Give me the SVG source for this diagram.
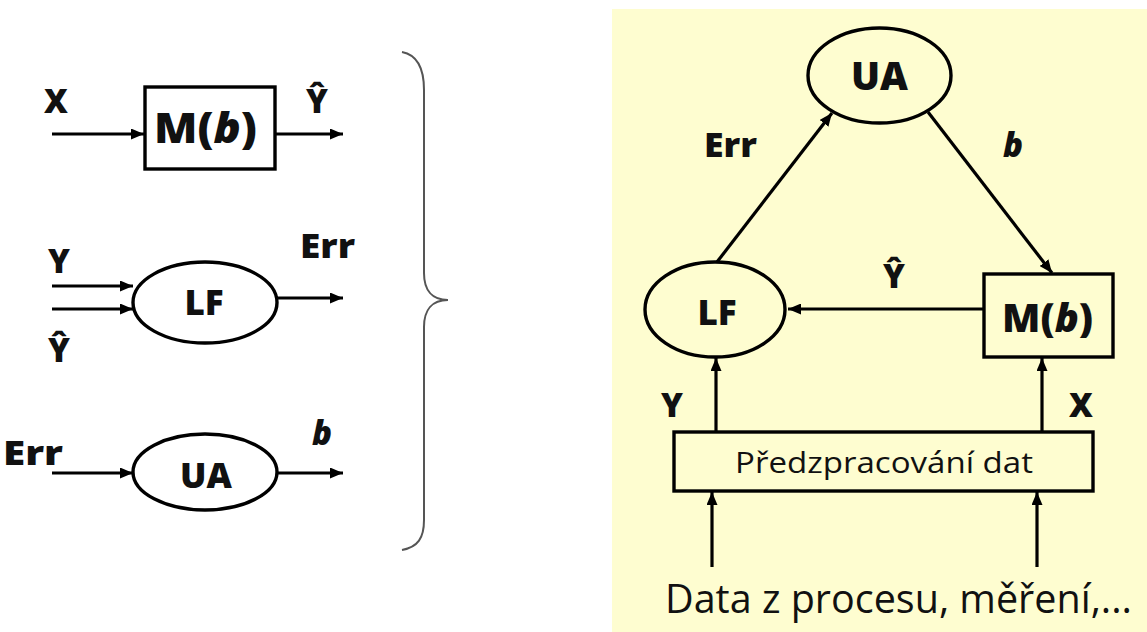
<svg xmlns="http://www.w3.org/2000/svg" width="1147" height="632" viewBox="0 0 1147 632">
<style>
.ln{stroke:#000;stroke-width:3.2;fill:none}
.shape{stroke:#000;stroke-width:3.4;fill:none}
.b{font-family:"Open Sans","Liberation Sans",sans-serif;font-weight:800;fill:#111}
.n{font-family:"Open Sans","Liberation Sans",sans-serif;fill:#111}
.lab{font-size:33px}
.node{font-size:35px}
</style>
<defs>
<marker id="ah" markerUnits="userSpaceOnUse" markerWidth="14" markerHeight="11" refX="13" refY="5.5" orient="auto">
<path d="M0,0 L13,5.5 L0,11 z" fill="#000"/>
</marker>
</defs>
<rect width="1147" height="632" fill="#fff"/>
<rect x="612" y="9" width="535" height="623" fill="#FEFDD0"/>

<!-- left: model -->
<g id="left-M">
<rect class="shape" x="145" y="87" width="130" height="82"/>
<text class="b" x="154" y="143" font-size="42" textLength="103" lengthAdjust="spacingAndGlyphs">M(<tspan font-style="italic">b</tspan>)</text>
</g>
<g id="left-LF">
<ellipse class="shape" cx="205" cy="302.5" rx="72" ry="40.5"/>
<text class="b node" x="204" y="315" text-anchor="middle">LF</text>
</g>
<g id="left-UA">
<ellipse class="shape" cx="205" cy="472" rx="72" ry="38"/>
<text class="b node" x="206" y="488" text-anchor="middle">UA</text>
</g>

<!-- left labels -->
<g id="left-labels">
<text class="b lab" x="56" y="113" text-anchor="middle">X</text>
<text class="b lab" x="317" y="113" text-anchor="middle">Ŷ</text>
<text class="b lab" x="59" y="273" text-anchor="middle">Y</text>
<text class="b lab" x="59" y="362" text-anchor="middle">Ŷ</text>
<text class="b lab" x="300" y="258" textLength="55" lengthAdjust="spacingAndGlyphs">Err</text>
<text class="b lab" x="3" y="465" textLength="60" lengthAdjust="spacingAndGlyphs">Err</text>
<text class="b lab" x="322" y="445" text-anchor="middle" font-style="italic">b</text>
</g>

<!-- brace -->
<g id="brace">
<path d="M402,52 C418,55 424,70 424,90 L424,273 C424,290 432,300 448,300 C432,300 424,310 424,327 L424,520 C424,538 418,547 402,550" fill="none" stroke="#555" stroke-width="2"/>
</g>

<!-- right nodes -->
<g id="right-UA">
<ellipse class="shape" cx="879.5" cy="75.5" rx="71.5" ry="47.5"/>
<text class="b" x="851" y="90" font-size="38" textLength="57" lengthAdjust="spacingAndGlyphs">UA</text>
</g>
<g id="right-LF">
<ellipse class="shape" cx="715" cy="309.5" rx="70" ry="47.5"/>
<text class="b node" x="717" y="325" text-anchor="middle">LF</text>
</g>
<g id="right-M">
<rect class="shape" x="984" y="274" width="129" height="83"/>
<text class="b" x="1002" y="332" font-size="39" textLength="91" lengthAdjust="spacingAndGlyphs">M(<tspan font-style="italic">b</tspan>)</text>
</g>
<g id="right-pre">
<rect class="shape" x="674" y="432" width="419" height="59"/>
<text class="n" x="735" y="473" font-size="29" textLength="298" lengthAdjust="spacingAndGlyphs">Předzpracování dat</text>
</g>

<!-- right labels -->
<g id="right-labels">
<text class="b lab" x="704" y="157" textLength="53" lengthAdjust="spacingAndGlyphs">Err</text>
<text class="b lab" x="1013" y="157" text-anchor="middle" font-style="italic">b</text>
<text class="b lab" x="894" y="288" text-anchor="middle">Ŷ</text>
<text class="b lab" x="672" y="417" text-anchor="middle">Y</text>
<text class="b lab" x="1081" y="417" text-anchor="middle">X</text>
<text class="n" x="665" y="613" font-size="40" textLength="467" lengthAdjust="spacingAndGlyphs">Data z procesu, měření,...</text>
</g>

<!-- connectors -->
<g id="connectors">
<line class="ln" x1="52" y1="134" x2="144" y2="134" marker-end="url(#ah)"/>
<line class="ln" x1="276" y1="134" x2="343" y2="134" marker-end="url(#ah)"/>
<line class="ln" x1="52" y1="286" x2="133" y2="286" marker-end="url(#ah)"/>
<line class="ln" x1="52" y1="309" x2="133" y2="309" marker-end="url(#ah)"/>
<line class="ln" x1="277" y1="298" x2="343" y2="298" marker-end="url(#ah)"/>
<line class="ln" x1="52" y1="473" x2="133" y2="473" marker-end="url(#ah)"/>
<line class="ln" x1="277" y1="473" x2="343" y2="473" marker-end="url(#ah)"/>

<line class="ln" x1="717" y1="262" x2="832" y2="113" marker-end="url(#ah)"/>
<line class="ln" x1="928" y1="112" x2="1052" y2="273" marker-end="url(#ah)"/>
<line class="ln" x1="984" y1="309" x2="788" y2="309" marker-end="url(#ah)"/>
<line class="ln" x1="716" y1="431" x2="716" y2="358" marker-end="url(#ah)"/>
<line class="ln" x1="1042" y1="431" x2="1042" y2="358" marker-end="url(#ah)"/>
<line class="ln" x1="712" y1="567" x2="712" y2="492" marker-end="url(#ah)"/>
<line class="ln" x1="1037" y1="567" x2="1037" y2="492" marker-end="url(#ah)"/>
</g>
</svg>
